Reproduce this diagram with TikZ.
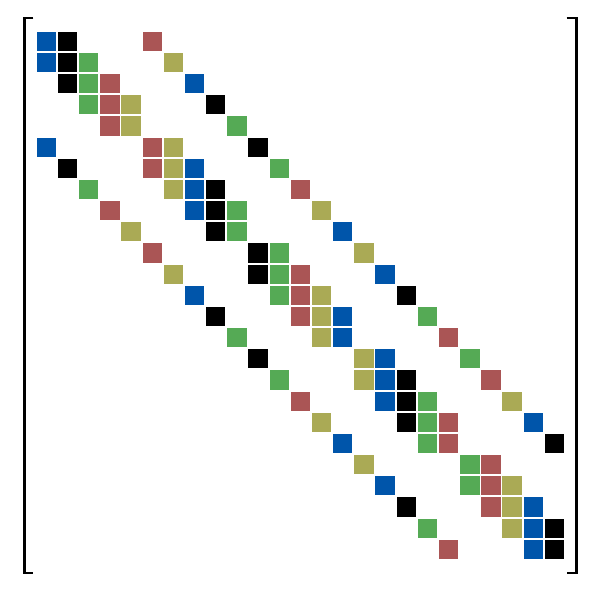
\documentclass[tikz,border=0pt]{standalone}
\definecolor{entry0}{HTML}{0055AA}
\definecolor{entry1}{HTML}{000000}
\definecolor{entry2}{HTML}{55AA55}
\definecolor{entry3}{HTML}{AA5555}
\definecolor{entry4}{HTML}{AAAA55}
\tikzset{bracket/.style={line width=0.135cm}}
\begin{document}
\begin{tikzpicture}[x=0.05cm,y=-0.05cm]
\useasboundingbox (0,0) rectangle (603,606);
\foreach \b in {0,...,4}
 \foreach \k in {0,...,4}
 {\pgfmathtruncatemacro{\col}{mod(\k+3*\b,5)}
  \foreach \db/\dk in {0/-1,0/0,0/1,-1/0,1/0}
  {\pgfmathtruncatemacro{\rb}{\b+\db}
   \pgfmathtruncatemacro{\rk}{\k+\dk}
   \ifnum\rb>-1 \ifnum\rb<5 \ifnum\rk>-1 \ifnum\rk<5
     \fill[fill=entry\col] ({36.7+21.17*(5*\b+\k)},{31.7+21.17*(5*\rb+\rk)}) rectangle ++(19.4,19.2);
   \fi\fi\fi\fi}}
  \draw[bracket] (33.3,18) -- (24.3,18) -- (24.3,573) -- (33.3,573);
  \draw[bracket] (566.7,18) -- (576.3,18) -- (576.3,573) -- (566.7,573);
\end{tikzpicture}
\end{document}
